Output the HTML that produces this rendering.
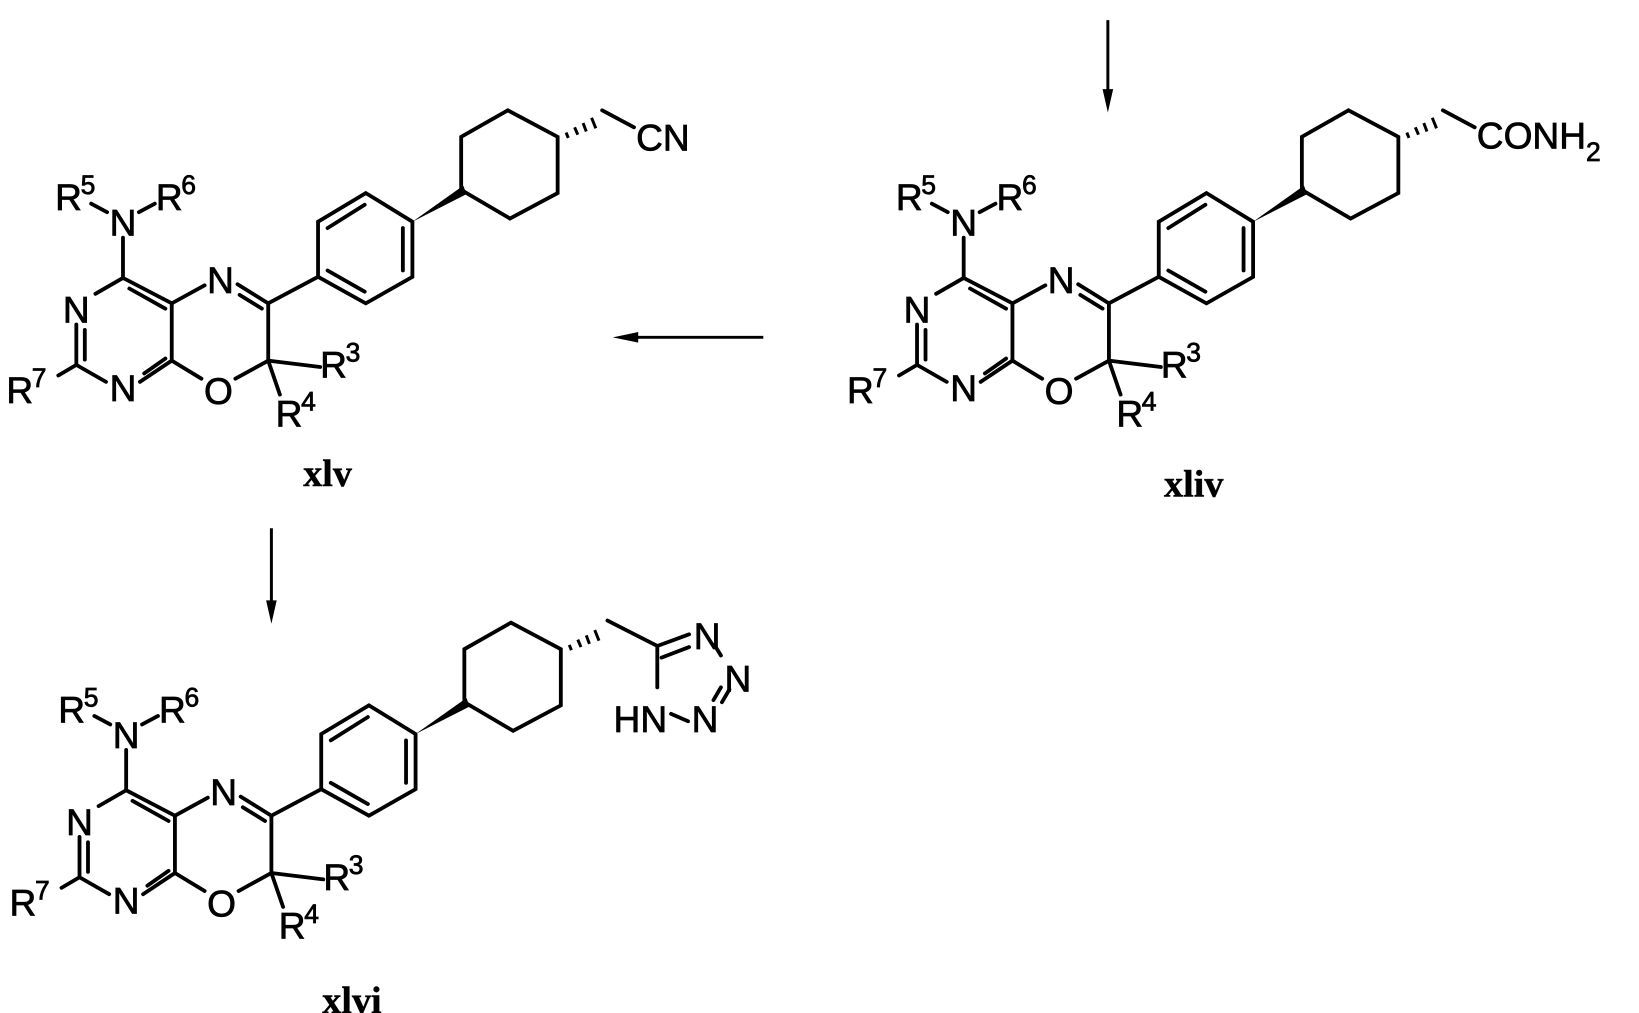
<!DOCTYPE html>
<html><head><meta charset="utf-8"><style>
html,body{margin:0;padding:0;background:#fff;}
svg{display:block}
text{font-family:"Liberation Sans",sans-serif;font-size:35px;fill:#000;stroke:#000;stroke-width:0.7}
.lab{font-family:"Liberation Serif",serif;font-weight:bold;font-size:36px;stroke-width:0.4}
.sup{font-size:25px}
</style></head><body>
<svg width="1639" height="1013" viewBox="0 0 1546 955" preserveAspectRatio="none" xmlns="http://www.w3.org/2000/svg">
<defs>
<g id="core" stroke="#000" stroke-width="3.6" fill="none" stroke-linecap="round">
  <line x1="86" y1="192" x2="101" y2="200"/>
  <line x1="131" y1="200" x2="146" y2="192"/>
  <line x1="116" y1="224" x2="116" y2="262"/>
  <line x1="116" y1="262" x2="90" y2="277"/>
  <line x1="72" y1="306" x2="72" y2="344"/>
  <line x1="80" y1="311" x2="80" y2="339"/>
  <line x1="72" y1="344" x2="55" y2="354"/>
  <line x1="72" y1="344" x2="100" y2="360"/>
  <line x1="132" y1="360" x2="162" y2="340"/>
  <line x1="136" y1="352" x2="156" y2="338"/>
  <line x1="162" y1="340" x2="162" y2="286"/>
  <line x1="116" y1="262" x2="162" y2="286"/>
  <line x1="122" y1="272" x2="156" y2="291"/>
  <line x1="162" y1="286" x2="193" y2="269"/>
  <line x1="224" y1="268" x2="253" y2="286"/>
  <line x1="226" y1="278" x2="247" y2="291"/>
  <line x1="253" y1="286" x2="253" y2="340"/>
  <line x1="253" y1="340" x2="222" y2="357"/>
  <line x1="190" y1="357" x2="162" y2="340"/>
  <line x1="253" y1="340" x2="302" y2="346"/>
  <line x1="253" y1="340" x2="264" y2="372"/>
  <line x1="253" y1="286" x2="300" y2="261"/>
  <polygon points="300,261 345,286 389,261 389,209 345,182 300,209"/>
  <line x1="309" y1="255" x2="344" y2="275"/>
  <line x1="380" y1="255" x2="380" y2="215"/>
  <line x1="309" y1="215" x2="344" y2="193"/>
  <polygon points="435,179 435,129 479,104 526,129 526,182 481,206"/>
</g>
<g id="wedge">
  <polygon points="389,209 437,175 440,183" fill="#000"/>
  <g stroke="#000" stroke-width="2.8">
    <line x1="534" y1="125" x2="536" y2="130"/>
    <line x1="542" y1="120" x2="545" y2="127"/>
    <line x1="550" y1="116" x2="553" y2="124"/>
    <line x1="558" y1="111" x2="562" y2="121"/>
  </g>
</g>
<g id="labels">
  <text x="116" y="222" text-anchor="middle">N</text>
  <text x="52" y="198">R</text><text x="76" y="183" class="sup">5</text>
  <text x="147" y="198">R</text><text x="171" y="183" class="sup">6</text>
  <text x="72" y="304" text-anchor="middle">N</text>
  <text x="116" y="378" text-anchor="middle">N</text>
  <text x="208" y="276" text-anchor="middle">N</text>
  <text x="206" y="381" text-anchor="middle">O</text>
  <text x="6" y="380">R</text><text x="30" y="365" class="sup">7</text>
  <text x="302" y="356">R</text><text x="326" y="341" class="sup">3</text>
  <text x="260" y="402">R</text><text x="284" y="387" class="sup">4</text>
</g>
</defs>

<use href="#core"/><use href="#wedge"/><use href="#labels"/>
<g stroke="#000" stroke-width="3.6" stroke-linecap="round"><line x1="568" y1="104" x2="598" y2="120"/></g>
<text x="600" y="142">CN</text>
<text x="309" y="458" text-anchor="middle" class="lab">xlv</text>

<g transform="translate(793,0)"><use href="#core"/><use href="#wedge"/><use href="#labels"/>
<g stroke="#000" stroke-width="3.6" stroke-linecap="round"><line x1="568" y1="104" x2="598" y2="120"/></g></g>
<text x="1393" y="140">CONH<tspan class="sup" dy="12">2</tspan></text>
<text x="1126" y="468" text-anchor="middle" class="lab">xliv</text>

<g transform="translate(3,483)"><use href="#core"/><use href="#wedge"/><use href="#labels"/></g>
<g stroke="#000" stroke-width="3.6" stroke-linecap="round" fill="none">
  <line x1="573" y1="585" x2="620" y2="609"/>
  <line x1="620" y1="609" x2="650" y2="598"/>
  <line x1="624" y1="620" x2="650" y2="610"/>
  <line x1="620" y1="609" x2="620" y2="648"/>
  <line x1="633" y1="673" x2="649" y2="680"/>
  <line x1="674" y1="608" x2="680" y2="618"/>
  <line x1="680" y1="648" x2="673" y2="660"/>
  <line x1="688" y1="650" x2="681" y2="662"/>
</g>
<text x="667" y="612" text-anchor="middle">N</text>
<text x="696" y="652" text-anchor="middle">N</text>
<text x="665" y="690" text-anchor="middle">N</text>
<text x="604" y="690" text-anchor="middle">HN</text>
<text x="332" y="955" text-anchor="middle" class="lab">xlvi</text>

<g stroke="#000" stroke-width="2.8">
  <line x1="720" y1="318" x2="595" y2="318"/>
  <line x1="1045" y1="19" x2="1045" y2="90"/>
  <line x1="256" y1="498" x2="256" y2="572"/>
</g>
<polygon points="578,318 602,313 602,323" fill="#000"/>
<polygon points="1045,106 1040,84 1050,84" fill="#000"/>
<polygon points="256,588 251,566 261,566" fill="#000"/>
</svg>
</body></html>
